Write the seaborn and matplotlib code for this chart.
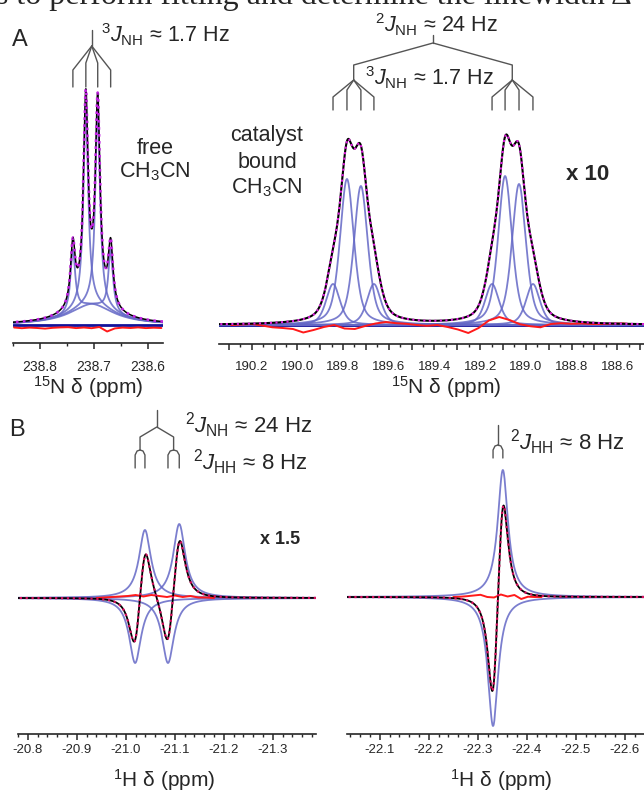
import numpy as np
import matplotlib
matplotlib.use("Agg")
import matplotlib.pyplot as plt
import seaborn as sns
from matplotlib.ticker import MultipleLocator, FormatStrFormatter, FuncFormatter

# ---- panel A, free CH3CN (15N, 1:3:3:1 quartet on a broad foot) ----
a1_shift = [238.739, 238.715, 238.693, 238.669]
a1_height = [62, 203, 199, 62]
a1_hwhm = 0.0052
a1_foot_height = 20
a1_foot_hwhm = 0.05
a1_res_ppm = np.linspace(238.848, 238.575, 20)
a1_res = [-2.5, -3.2, -2.6, -3.0, -3.6, -2.8, -2.4, -2.2, -3.1, -2.5,
          -3.2, -2.0, -6.5, -3.4, -2.6, -3.0, -2.4, -3.1, -2.7, -3.0]

# ---- panel A, catalyst bound CH3CN (doublet of quartets) ----
a2_shift = [189.844, 189.783, 189.722, 189.665, 189.148, 189.091, 189.030, 188.969]
a2_height = [41, 146, 139, 41, 41, 149, 141, 41]
a2_hwhm = 0.036
a2_res_ppm = np.linspace(190.29, 188.53, 40)
a2_res = [0.0, 0.5, 1.0, -0.5, -2.3, -3.0, -4.0, -7.5, -5.0, -2.0,
          0.0, -3.5, -4.0, -1.0, 1.5, 3.0, 1.8, 1.2, 0.0, -0.8,
          0.0, -2.0, -4.5, -8.0, -3.0, 4.5, 8.0, 5.0, 0.8, -1.2,
          -2.3, 1.0, 1.8, 1.2, 1.5, 1.0, 1.0, 1.3, 1.6, 0.5]

# ---- panel B, 1H hydrides (antiphase) ----
b1_shift = [-21.019, -21.039, -21.086, -21.109]
b1_height = [-65, 68, -65, 74]
b1_hwhm = 0.0148
b1_res_ppm = np.linspace(-20.94, -21.18, 16)
b1_res = [0.0, 0.5, 1.0, 1.5, 2.0, 3.0, 1.5, 3.0, 2.0, 1.0, 2.5, 1.0, 2.0, 0.5, 0.5, 0.0]

b2_shift = [-22.331, -22.351]
b2_height = [-129, 127]
b2_hwhm = 0.0128
b2_res_ppm = np.linspace(-22.25, -22.43, 14)
b2_res = [0.0, 0.3, 0.8, 1.5, 2.2, 0.0, -0.5, 2.5, 0.5, 2.0, -2.0, 0.3, 0.0, 0.0]

W, H = 644, 793
BLUE = "#6468c6"
NAVY = "#12129a"
RED = "#ff1a1a"
TREE = "#555555"

sns.set_style("ticks")
plt.rcParams["font.family"] = ["Liberation Sans", "DejaVu Sans"]
plt.rcParams["mathtext.fontset"] = "custom"
plt.rcParams["mathtext.rm"] = "Liberation Sans"
plt.rcParams["mathtext.it"] = "Liberation Sans:italic"
plt.rcParams["mathtext.bf"] = "Liberation Sans:bold"
plt.rcParams["axes.unicode_minus"] = False

fig = plt.figure(figsize=(W / 100, H / 100), dpi=100)


def px_axes(left, top, right, bottom):
    return fig.add_axes([left / W, 1 - bottom / H, (right - left) / W, (bottom - top) / H])


def ftext(x, y, s, **kw):
    kw.setdefault("fontsize", 15)
    kw.setdefault("va", "center")
    fig.text(x / W, 1 - y / H, s, **kw)


def lorentz(x, x0, h, w):
    return h / (1 + ((x - x0) / w) ** 2)


def pvoigt(x, x0, h, w):
    g = np.exp(-np.log(2) * ((x - x0) / w) ** 2)
    return h * (0.5 * g + 0.5 / (1 + ((x - x0) / w) ** 2))


def draw_spectrum(ax, xlim, ylim, comps, base, res_ppm, res, fit_color,
                  data_lw=1.5, fit_lw=1.5, show_base=True):
    x = comps[0][0]
    total = base + np.sum([c for _, c in comps], axis=0)
    if show_base:
        ax.axhline(0, color=NAVY, lw=2.0, zorder=1)
    for _, c in comps:
        sns.lineplot(x=x, y=base + c, ax=ax, color=BLUE, lw=1.3, alpha=0.85, zorder=2)
    sns.lineplot(x=res_ppm, y=res, ax=ax, color=RED, lw=1.4, zorder=3)
    sns.lineplot(x=x, y=total, ax=ax, color="black", lw=data_lw, zorder=4)
    sns.lineplot(x=x, y=total, ax=ax, color=fit_color, lw=fit_lw, linestyle=":", zorder=5)
    ax.set_xlim(*xlim)
    ax.set_ylim(*ylim)
    ax.set_yticks([])
    ax.set_xlabel("")
    ax.set_ylabel("")
    sns.despine(ax=ax, left=True)
    ax.spines["bottom"].set_linewidth(1.2)
    ax.tick_params(axis="x", which="major", length=4.5, width=1.1)
    ax.tick_params(axis="x", which="minor", length=2.5, width=1.0)


def tree_line(ax, xs, ys):
    ax.plot(xs, ys, color=TREE, lw=1.0, clip_on=False, zorder=6)


def fan(ax, shifts, y_top, y_kinks, y_bot):
    xc = np.mean(shifts)
    for s, yk in zip(shifts, y_kinks):
        tree_line(ax, [xc, s, s], [y_top, yk, y_bot])


# ---------------- A1 ----------------
ax1 = px_axes(13, 20, 163, 343)
lim1 = (238.85, 238.572)
x1 = np.linspace(lim1[0], lim1[1], 2500)
foot1 = lorentz(x1, np.mean(a1_shift), a1_foot_height, a1_foot_hwhm)
comps1 = [(x1, lorentz(x1, s, h, a1_hwhm)) for s, h in zip(a1_shift, a1_height)]
draw_spectrum(ax1, lim1, (-18, 305), comps1, foot1, a1_res_ppm, a1_res, "#c020e0",
              data_lw=1.1, fit_lw=1.9)
ax1.xaxis.set_major_locator(MultipleLocator(0.1))
ax1.xaxis.set_minor_locator(MultipleLocator(0.05))
ax1.xaxis.set_major_formatter(FormatStrFormatter("%.1f"))
ax1.tick_params(axis="x", pad=8, labelsize=10)
c1 = np.mean(a1_shift)
tree_line(ax1, [c1, c1], [295, 279])
fan(ax1, a1_shift, 279, [255, 262, 262, 255], 238)

# ---------------- A2 ----------------
ax2 = px_axes(219, 20, 644, 344)
lim2 = (190.343, 188.483)
x2 = np.linspace(lim2[0], lim2[1], 2500)
comps2 = [(x2, pvoigt(x2, s, h, a2_hwhm)) for s, h in zip(a2_shift, a2_height)]
draw_spectrum(ax2, lim2, (-19, 305), comps2, np.zeros_like(x2), a2_res_ppm, a2_res,
              "#e020e0")
ax2.xaxis.set_major_locator(MultipleLocator(0.1))
ax2.xaxis.set_minor_locator(MultipleLocator(0.05))
ax2.xaxis.set_major_formatter(
    FuncFormatter(lambda v, p: f"{v:.1f}" if round(v * 10) % 2 == 0 else ""))
ax2.tick_params(axis="x", pad=8, labelsize=9.5)
left_c = np.mean(a2_shift[:4])
right_c = np.mean(a2_shift[4:])
mid_c = (left_c + right_c) / 2
tree_line(ax2, [mid_c, mid_c], [290, 282])
tree_line(ax2, [left_c, left_c, mid_c, right_c, right_c], [245, 260, 282, 260, 245])
fan(ax2, a2_shift[:4], 245, [228, 235, 235, 228], 215)
fan(ax2, a2_shift[4:], 245, [228, 235, 235, 228], 215)

# ---------------- B1 ----------------
ax3 = px_axes(18, 400, 316, 734)
lim3 = (-20.78, -21.388)
x3 = np.linspace(lim3[0], lim3[1], 2500)
comps3 = [(x3, lorentz(x3, s, h, b1_hwhm)) for s, h in zip(b1_shift, b1_height)]
draw_spectrum(ax3, lim3, (-136, 198), comps3, np.zeros_like(x3), b1_res_ppm, b1_res,
              "#d81060", data_lw=1.3, fit_lw=1.6, show_base=False)
ax3.xaxis.set_major_locator(MultipleLocator(0.1))
ax3.xaxis.set_minor_locator(MultipleLocator(0.02))
ax3.xaxis.set_major_formatter(FormatStrFormatter("%.1f"))
ax3.tick_params(axis="x", pad=3, labelsize=9.5)
pl = np.mean(b1_shift[:2])
pr = np.mean(b1_shift[2:])
pm = (pl + pr) / 2
tree_line(ax3, [pm, pm], [188, 171])
tree_line(ax3, [pl, pl, pm, pr, pr], [148, 161, 171, 161, 148])
for pair in (b1_shift[:2], b1_shift[2:]):
    c = np.mean(pair)
    for s in pair:
        tree_line(ax3, [c, c + 0.6 * (s - c), s, s], [148, 147, 143, 130])

# ---------------- B2 ----------------
ax4 = px_axes(347, 400, 644, 734)
lim4 = (-22.033, -22.639)
x4 = np.linspace(lim4[0], lim4[1], 2500)
comps4 = [(x4, lorentz(x4, s, h, b2_hwhm)) for s, h in zip(b2_shift, b2_height)]
draw_spectrum(ax4, lim4, (-137, 197), comps4, np.zeros_like(x4), b2_res_ppm, b2_res,
              "#d81060", data_lw=1.3, fit_lw=1.6, show_base=False)
ax4.xaxis.set_major_locator(MultipleLocator(0.1))
ax4.xaxis.set_minor_locator(MultipleLocator(0.02))
ax4.xaxis.set_major_formatter(FormatStrFormatter("%.1f"))
ax4.tick_params(axis="x", pad=3, labelsize=9.5)
c4 = np.mean(b2_shift)
tree_line(ax4, [c4, c4], [172, 152])
for s in b2_shift:
    tree_line(ax4, [c4, c4 + 0.6 * (s - c4), s, s], [152, 151, 147, 139])

# ---------------- texts ----------------
ftext(-4, 4, "s to perform fitting and determine the linewidth Δ", fontsize=23,
      family="Liberation Serif", va="baseline")
ftext(20, 40, "A", fontsize=17, ha="center")
ftext(101, 35, r"$^{3}J_{\mathrm{NH}}$ ≈ 1.7 Hz", fontsize=15.5)
ftext(155, 148, "free", ha="center", fontsize=15.5)
ftext(155, 172, r"CH$_3$CN", ha="center", fontsize=15.5)
ftext(437, 25, r"$^{2}J_{\mathrm{NH}}$ ≈ 24 Hz", ha="center", fontsize=15.5)
ftext(365, 78, r"$^{3}J_{\mathrm{NH}}$ ≈ 1.7 Hz", fontsize=15.5)
ftext(267, 135, "catalyst", ha="center", fontsize=15.5)
ftext(267, 162, "bound", ha="center", fontsize=15.5)
ftext(267, 188, r"CH$_3$CN", ha="center", fontsize=15.5)
ftext(588, 175, "x 10", ha="center", fontweight="bold", fontsize=16)
ftext(88, 387, r"$^{15}$N δ (ppm)", ha="center")
ftext(446, 387, r"$^{15}$N δ (ppm)", ha="center")

ftext(17, 430, "B", fontsize=17, ha="center")
ftext(185, 425, r"$^{2}J_{\mathrm{NH}}$ ≈ 24 Hz", fontsize=16)
ftext(193, 462, r"$^{2}J_{\mathrm{HH}}$ ≈ 8 Hz", fontsize=16)
ftext(280, 540, "x 1.5", ha="center", fontweight="bold", fontsize=13)
ftext(510, 442, r"$^{2}J_{\mathrm{HH}}$ ≈ 8 Hz", fontsize=16)
ftext(164, 780, r"$^{1}$H δ (ppm)", ha="center")
ftext(501, 780, r"$^{1}$H δ (ppm)", ha="center")

fig.savefig("out.png", dpi=100)
